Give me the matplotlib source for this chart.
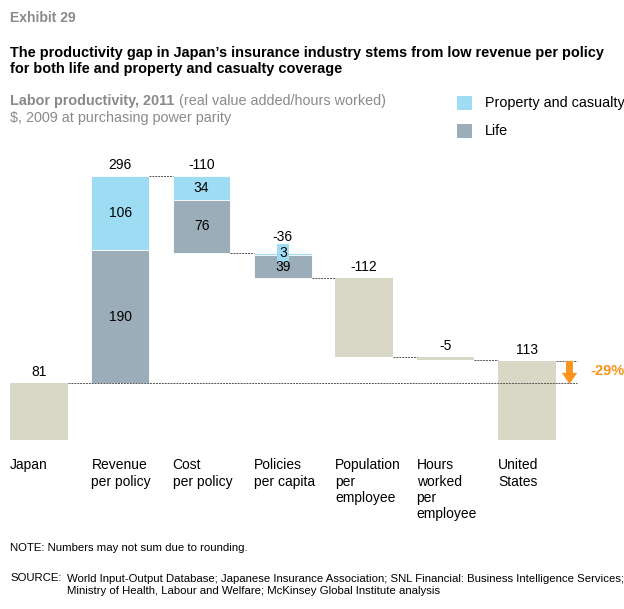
import matplotlib.pyplot as plt
from matplotlib.patches import Rectangle

plt.rcParams['font.family'] = ['Liberation Sans', 'DejaVu Sans']

# data
categories = ['Japan', 'Revenue\nper policy', 'Cost\nper policy', 'Policies\nper capita',
              'Population\nper\nemployee', 'Hours\nworked\nper\nemployee', 'United\nStates']
totals = [81, 296, -110, -36, -112, -5, 113]
life = [None, 190, -76, -39, None, None, None]
pc = [None, 106, -34, 3, None, None, None]
gap_label = '-29%'

C_PC = '#9edcf3'
C_LIFE = '#9aadb9'
C_BEIGE = '#d9d8c6'
C_ORANGE = '#f7941e'
C_GRAY = '#8a8a8a'
C_DASH = '#555555'

W, H = 624, 609
fig = plt.figure(figsize=(W / 100, H / 100), dpi=100)

def fx(x):
    return x / W

def fy(y):
    return 1 - y / H

# axes: value 0 at pixel y 440, 0.7 px per unit
ax = fig.add_axes([0, fy(440), 1, 280 / H])
ax.set_xlim(-39 / 81.3, (W - 39) / 81.3)
ax.set_ylim(0, 400)
ax.axis('off')

bw = 0.71
level = 0
ends = []
for i, t in enumerate(totals):
    if i == 0 or i == len(totals) - 1:
        bottom, top = 0, t
        level = t
    else:
        start = level
        level = start + t
        bottom, top = min(start, level), max(start, level)
    ends.append(level)
    if life[i] is None:
        ax.add_patch(Rectangle((i - bw / 2, bottom), bw, top - bottom, fc=C_BEIGE, ec='none', zorder=2))
    else:
        pch = abs(pc[i])
        ax.add_patch(Rectangle((i - bw / 2, top - pch), bw, pch, fc=C_PC, ec='white', lw=0.6, zorder=2))
        ax.add_patch(Rectangle((i - bw / 2, bottom), bw, top - pch - bottom, fc=C_LIFE, ec='white', lw=0.6, zorder=2))
        if pch > 10:
            ax.text(i, top - pch / 2, str(abs(pc[i])), ha='center', va='center', fontsize=10, zorder=4)
            ax.text(i, bottom + (top - pch - bottom) / 2, str(abs(life[i])), ha='center', va='center',
                    fontsize=10, zorder=4)
        else:
            ax.text(i, top - pch / 2 + 1, str(abs(pc[i])), ha='center', va='center', fontsize=10, zorder=4,
                    bbox=dict(boxstyle='square,pad=0.15', fc=C_PC, ec='none'))
            ax.text(i, bottom + (top - pch - bottom) / 2 - 1, str(abs(life[i])), ha='center', va='center',
                    fontsize=10, zorder=4)
    off = 6.5 if (life[i] is not None and abs(pc[i]) < 10) else 3
    ax.annotate(str(t), (i, top), xytext=(0, off), textcoords='offset points',
                ha='center', va='bottom', fontsize=10, zorder=4)
    ax.text(i - bw / 2, -26, categories[i], ha='left', va='top', fontsize=10, linespacing=1.22,
            clip_on=False)

# connectors
dash = dict(color=C_DASH, lw=0.7, ls=(0, (2, 1)), zorder=3)
for i in range(1, len(totals) - 1):
    ax.plot([i + bw / 2, i + 1 - bw / 2], [ends[i], ends[i]], **dash)
x_arrow = (569.5 - 39) / 81.3
x_end = (577 - 39) / 81.3
ax.plot([bw / 2, x_end], [totals[0], totals[0]], **dash)
ax.plot([len(totals) - 1 + bw / 2, x_end], [totals[-1], totals[-1]], **dash)

ax.annotate('', xy=(x_arrow, totals[0] - 1), xytext=(x_arrow, totals[-1]),
            arrowprops=dict(arrowstyle='simple,head_length=0.8,head_width=1.1,tail_width=0.5',
                            mutation_scale=10, fc=C_ORANGE, ec='none',
                            shrinkA=0, shrinkB=0), zorder=4)
ax.text((590 - 39) / 81.3, (totals[0] + totals[-1]) / 2 + 1, gap_label, color=C_ORANGE,
        fontweight='bold', fontsize=10.5, ha='left', va='center', clip_on=False)

# header
fig.text(fx(10), fy(18), 'Exhibit 29', color=C_GRAY, fontweight='bold', fontsize=10, va='center')
fig.text(fx(10), fy(61), 'The productivity gap in Japan\u2019s insurance industry stems from low revenue per policy\n'
         'for both life and property and casualty coverage', fontweight='bold', fontsize=10.45,
         va='center', linespacing=1.22)
t1 = fig.text(fx(10), fy(101), 'Labor productivity, 2011', color=C_GRAY, fontweight='bold', fontsize=10.4,
              va='center')
bb = t1.get_window_extent(renderer=fig.canvas.get_renderer())
fig.text((bb.x1 + 5) / W, fy(101), '(real value added/hours worked)', color=C_GRAY, fontsize=10.4,
         va='center')
fig.text(fx(10), fy(118), '$, 2009 at purchasing power parity', color=C_GRAY, fontsize=10.4, va='center')

# legend
for y, c, lab in [(103, C_PC, 'Property and casualty'), (131, C_LIFE, 'Life')]:
    fig.add_artist(Rectangle((fx(457), fy(y + 7)), 15 / W, 14 / H, fc=c, ec='none',
                             transform=fig.transFigure))
    fig.text(fx(485), fy(y), lab, fontsize=10.4, va='center')

# footer
fig.text(fx(10), fy(548), 'NOTE: Numbers may not sum due to rounding.', fontsize=8.2, va='center')
fig.text(fx(10), fy(578), 'SOURCE:', fontsize=8.2, va='center')
fig.text(fx(67), fy(585), 'World Input-Output Database; Japanese Insurance Association; SNL Financial: '
         'Business Intelligence Services;\nMinistry of Health, Labour and Welfare; McKinsey Global Institute analysis',
         fontsize=8.2, va='center', linespacing=1.3)

fig.savefig('out.png', dpi=100)
